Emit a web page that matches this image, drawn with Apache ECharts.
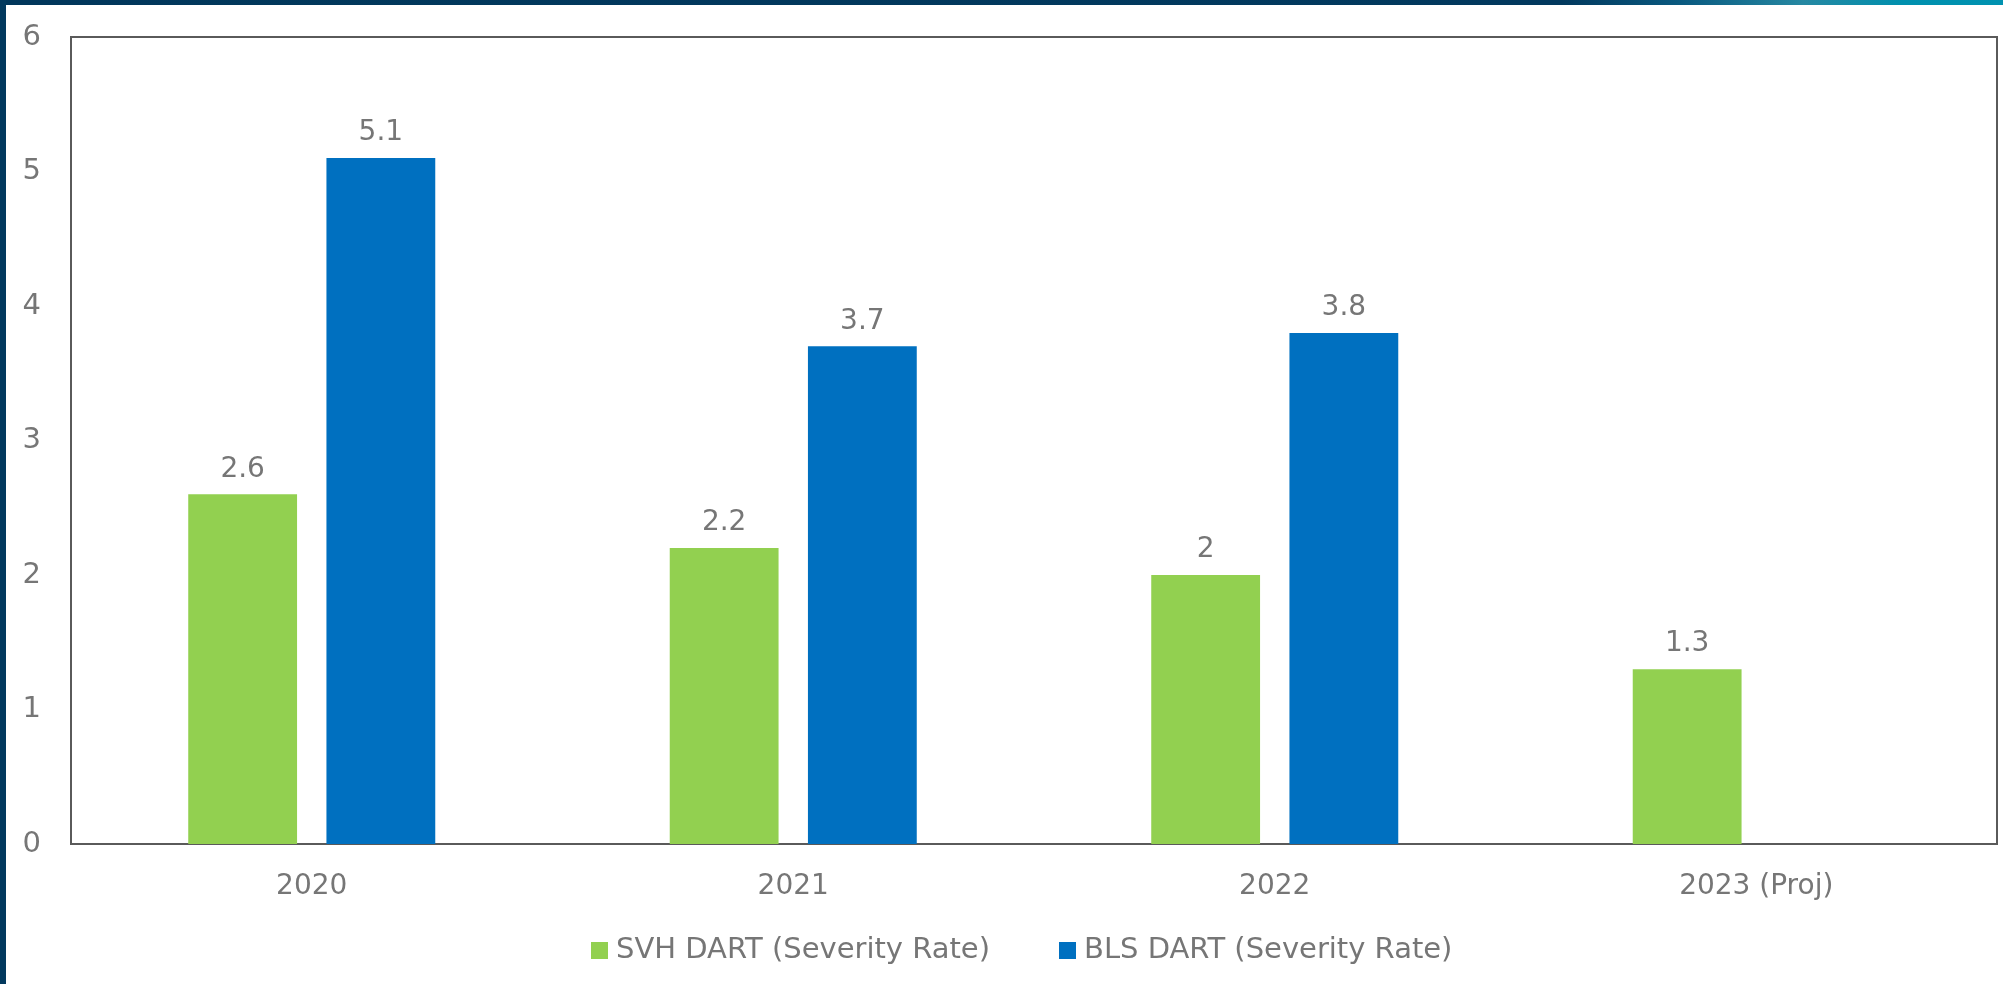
<!DOCTYPE html>
<html>
<head>
<meta charset="utf-8">
<style>
  html, body { margin: 0; padding: 0; background: #fff; }
  #chart { width: 2003px; height: 984px; }
</style>
<script src="https://cdn.jsdelivr.net/npm/echarts@6/dist/echarts.min.js"></script>
</head>
<body>
<div id="chart"></div>
<script>
// data
var years = ['2020', '2021', '2022', '2023 (Proj)'];
var svhDart = [2.6, 2.2, 2, 1.3];
var blsDart = [5.1, 3.7, 3.8, null];
var seriesNames = ['SVH DART (Severity Rate)', 'BLS DART (Severity Rate)'];
var yTicks = [0, 1, 2, 3, 4, 5, 6];

var textColor = '#767676';
var font = '"DejaVu Sans", sans-serif';

var myChart = echarts.init(document.getElementById('chart'));

var labelStyle = {
    show: true,
    position: 'top',
    distance: 11,
    color: textColor,
    fontSize: 28,
    fontFamily: font
};

var option = {
    backgroundColor: '#fff',
    animation: false,
    textStyle: { fontFamily: font },
    // slide decoration: top strip and left bar
    graphic: [
        {
            type: 'rect',
            shape: { x: 0, y: 0, width: 2003, height: 5 },
            style: {
                fill: new echarts.graphic.LinearGradient(0, 0, 1, 0, [
                    { offset: 0, color: '#01375B' },
                    { offset: 0.78, color: '#02395E' },
                    { offset: 0.84, color: '#0A5A80' },
                    { offset: 0.9, color: '#2688A2' },
                    { offset: 0.95, color: '#0090AE' },
                    { offset: 1, color: '#0092B0' }
                ])
            },
            z: 10
        },
        {
            type: 'rect',
            shape: { x: 0, y: 0, width: 6, height: 984 },
            style: { fill: '#02395E' },
            z: 10
        }
    ],
    grid: {
        left: 71,
        right: 6,
        top: 37,
        bottom: 140,
        show: true,
        borderColor: '#5a5a5a',
        borderWidth: 2,
        containLabel: false
    },
    legend: {
        data: seriesNames,
        left: 586,
        top: 931,
        itemWidth: 17,
        itemHeight: 17,
        itemGap: 69,
        icon: 'rect',
        textStyle: { color: textColor, fontSize: 29, fontFamily: font, padding: [0, 0, 0, 3] }
    },
    xAxis: {
        type: 'category',
        data: years,
        axisTick: { show: false },
        axisLine: { lineStyle: { color: '#5a5a5a', width: 2 } },
        axisLabel: { color: textColor, fontSize: 28, fontFamily: font, margin: 29 }
    },
    yAxis: {
        type: 'value',
        min: yTicks[0],
        max: yTicks[yTicks.length - 1],
        interval: 1,
        splitLine: { show: false },
        axisTick: { show: false },
        axisLine: { show: true, lineStyle: { color: '#5a5a5a', width: 2 } },
        axisLabel: { color: textColor, fontSize: 29, fontFamily: font, margin: 30 }
    },
    series: [
        {
            name: seriesNames[0],
            type: 'bar',
            data: svhDart,
            barWidth: '22.6%',
            barGap: '27%',
            itemStyle: { color: '#92D050' },
            label: labelStyle
        },
        {
            name: seriesNames[1],
            type: 'bar',
            data: blsDart,
            barWidth: '22.6%',
            itemStyle: { color: '#0070C0' },
            label: labelStyle
        }
    ]
};

myChart.setOption(option);
window.addEventListener('resize', function () {
    myChart.resize();
});
</script>
</body>
</html>
